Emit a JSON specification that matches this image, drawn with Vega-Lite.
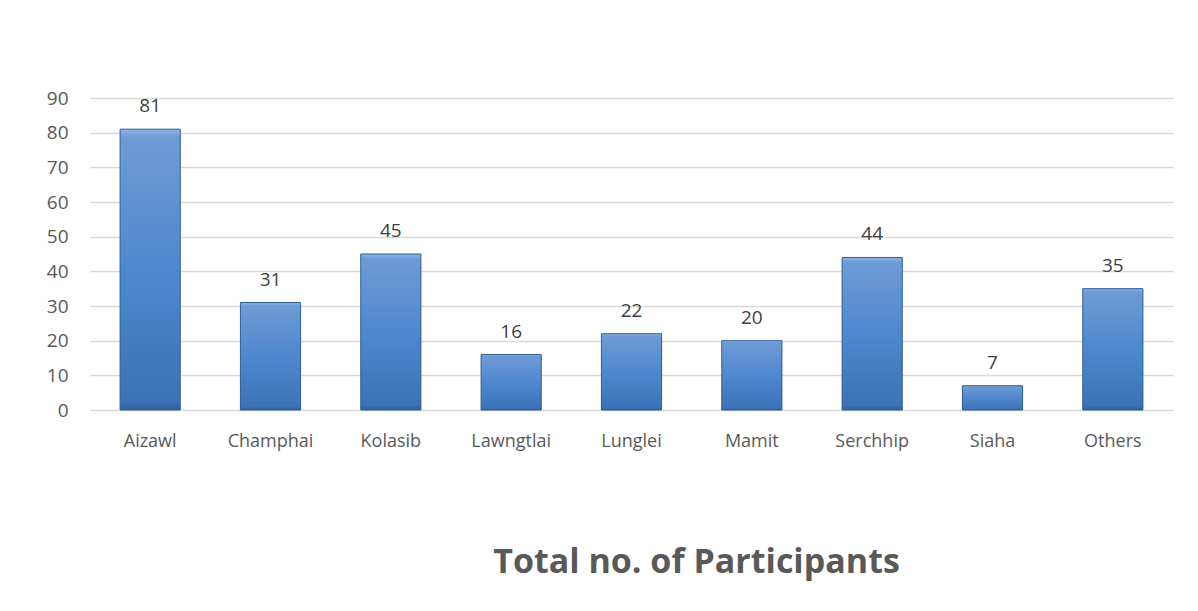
{
  "$schema": "https://vega.github.io/schema/vega-lite/v6.json",
  "width": 1083,
  "height": 312,
  "autosize": {"type": "none"},
  "padding": {"left": 90, "top": 98, "right": 25, "bottom": 201},
  "background": "white",
  "config": {"view": {"stroke": null}, "font": "Open Sans"},
  "data": {"values": [
    {"district": "Aizawl", "participants": 81},
    {"district": "Champhai", "participants": 31},
    {"district": "Kolasib", "participants": 45},
    {"district": "Lawngtlai", "participants": 16},
    {"district": "Lunglei", "participants": 22},
    {"district": "Mamit", "participants": 20},
    {"district": "Serchhip", "participants": 44},
    {"district": "Siaha", "participants": 7},
    {"district": "Others", "participants": 35}
  ]},
  "encoding": {
    "x": {"field": "district", "type": "nominal", "sort": null,
      "scale": {"paddingInner": 0.5, "paddingOuter": 0.25},
      "axis": {"title": "Total no. of Participants", "titleFontSize": 34, "titleFontWeight": "bold", "titleColor": "#595959", "titlePadding": 95, "titleX": 606,
        "labelAngle": 0, "labelFontSize": 18, "labelColor": "#595959", "labelPadding": 22, "domain": false, "ticks": false}},
    "y": {"field": "participants", "type": "quantitative",
      "scale": {"domain": [0, 90]},
      "axis": {"title": null, "values": [0,10,20,30,40,50,60,70,80,90], "labelFontSize": 19, "labelColor": "#595959", "labelPadding": 22, "domain": false, "ticks": false, "gridColor": "#d9d9d9", "gridWidth": 1.3}}
  },
  "layer": [
    {"mark": {"type": "bar", "stroke": "#2f5d96", "strokeWidth": 1,
      "color": {"gradient": "linear", "x1": 0, "y1": 0, "x2": 0, "y2": 1,
        "stops": [{"offset": 0, "color": "#8db4e6"}, {"offset": 0.03, "color": "#6e9bd6"}, {"offset": 0.5, "color": "#4f88cf"}, {"offset": 0.97, "color": "#3c72b6"}, {"offset": 1, "color": "#2f5d96"}]}}},
    {"mark": {"type": "text", "dy": -23, "fontSize": 19, "color": "#404040"},
      "encoding": {"text": {"field": "participants", "type": "quantitative"}}}
  ]
}
